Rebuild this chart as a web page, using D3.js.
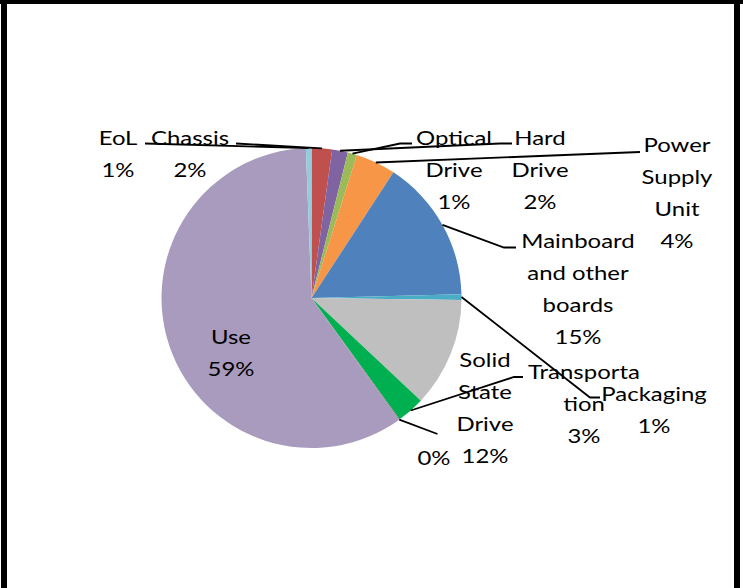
<!DOCTYPE html>
<html>
<head>
<meta charset="utf-8">
<script src="https://cdn.jsdelivr.net/npm/d3@7"></script>
<style>
  body { margin: 0; background: #fff; }
  svg text { font-family: Lato, "Open Sans", sans-serif; font-size: 19px; fill: #000; }
</style>
</head>
<body>
<div id="chart"></div>
<script>
// slices in clockwise order starting at 12 o'clock
const categories = ["Chassis", "Hard Drive", "Optical Drive", "Power Supply Unit",
    "Mainboard and other boards", "Packaging", "Solid State Drive", "Transportation",
    "", "Use", "EoL"];
const shares = [2.2, 1.7, 1.0, 4.3, 15.4, 0.6, 11.8, 3.0, 0.1, 59.3, 0.6];
const colors = ["#C0504D", "#8064A2", "#9BBB59", "#F79646", "#4F81BD", "#4BACC6",
    "#BFBFBF", "#00B050", "#7F7F7F", "#A99BBD", "#93CDDD"];

// label text as Excel wrapped it
const labelLines = [
    ["Chassis"], ["Hard", "Drive"], ["Optical", "Drive"], ["Power", "Supply", "Unit"],
    ["Mainboard", "and other", "boards"], ["Packaging"], ["Solid", "State", "Drive"],
    ["Transporta", "tion"], [], ["Use"], ["EoL"]
];

// label layout: centre x, first baseline, leader path points (after the slice edge)
const labelLayout = [
    { x: 190, y: 145, leader: [[236, 143.5]] },
    { x: 540, y: 145, leader: [[500, 143.5], [512, 143.5]] },
    { x: 454, y: 145, leader: [[400, 143.5], [412, 143.5]] },
    { x: 677, y: 152, leader: [[640, 152]] },
    { x: 578, y: 248, leader: [[504, 247.5], [516, 247.5]] },
    { x: 654, y: 401, leader: [[590, 397.5], [600, 397.5]] },
    { x: 485, y: 367, leader: null },
    { x: 584, y: 379, leader: [[514, 377], [523, 377]] },
    { x: 434, y: 465, leader: [[437.5, 434]] },
    { x: 231, y: 344, leader: null },
    { x: 118, y: 145, leader: [[145, 143.5]] }
];

const W = 743, H = 588;
const cx = 311.5, cy = 298, r = 150;
const lineH = 32;

const svg = d3.select("#chart").append("svg")
    .attr("width", W)
    .attr("height", H);

const data = categories.map((c, i) => ({ name: c, value: shares[i], i: i }));
const total = d3.sum(shares);

const pie = d3.pie()
    .sort(null)
    .value(d => d.value);

const arc = d3.arc()
    .innerRadius(0)
    .outerRadius(r);

const arcs = pie(data);

const g = svg.append("g")
    .attr("transform", `translate(${cx},${cy})`);

g.selectAll("path.slice")
    .data(arcs)
    .enter().append("path")
    .attr("class", "slice")
    .attr("d", arc)
    .attr("fill", d => colors[d.data.i]);

// point on the rim at the slice's middle angle
function rimPoint(d) {
    const a = (d.startAngle + d.endAngle) / 2;
    return [cx + r * Math.sin(a), cy - r * Math.cos(a)];
}

const line = d3.line();

svg.selectAll("path.leader")
    .data(arcs.filter(d => labelLayout[d.data.i].leader))
    .enter().append("path")
    .attr("class", "leader")
    .attr("d", d => line([rimPoint(d)].concat(labelLayout[d.data.i].leader)))
    .attr("fill", "none")
    .attr("stroke", "#000")
    .attr("stroke-width", 1.8);

// Calibri-ish proportions: stretch labels sideways a bit
const labels = svg.selectAll("g.label")
    .data(arcs)
    .enter().append("g")
    .attr("class", "label")
    .attr("transform", d => `translate(${labelLayout[d.data.i].x},${labelLayout[d.data.i].y}) scale(1.26,1)`);

labels.each(function (d) {
    const pct = Math.round(d.data.value / total * 100) + "%";
    const lines = labelLines[d.data.i].concat([pct]);
    d3.select(this).selectAll("text")
        .data(lines)
        .enter().append("text")
        .attr("text-anchor", "middle")
        .attr("y", (t, k) => k * lineH)
        .text(t => t);
});

// outer frame
svg.append("rect").attr("x", 0).attr("y", 0).attr("width", W).attr("height", 4).attr("fill", "#000");
svg.append("rect").attr("x", 1).attr("y", 0).attr("width", 6).attr("height", H).attr("fill", "#000");
svg.append("rect").attr("x", 734).attr("y", 0).attr("width", 6).attr("height", H).attr("fill", "#000");
</script>
</body>
</html>
